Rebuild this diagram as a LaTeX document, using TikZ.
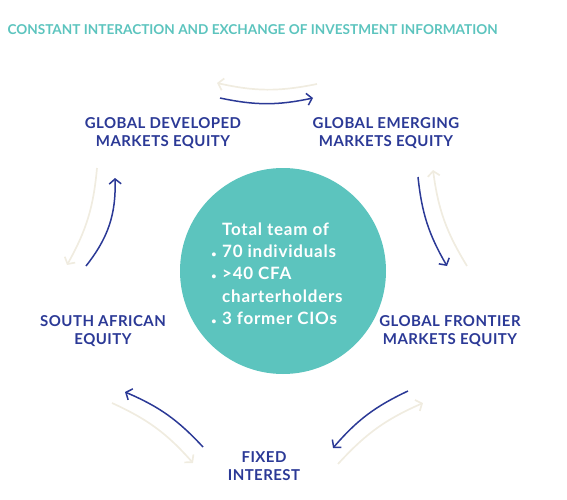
\documentclass[tikz,border=0pt]{standalone}
\usepackage{fontspec}
\setmainfont{Lato}
\usetikzlibrary{arrows.meta}

\definecolor{teamteal}{RGB}{92,196,190}
\definecolor{deepblue}{RGB}{43,57,150}
\definecolor{paleflow}{RGB}{240,236,224}

\begin{document}
\begin{tikzpicture}[
		x=1pt, y=-1pt,
		% Styling for the asset class labels
		classlabel/.style={align=center, text=deepblue, font=\bfseries\fontsize{15}{18.5}\selectfont\addfontfeature{LetterSpace=3}},
		% Heading and centre disc
		titlestyle/.style={anchor=west, text=teamteal, font=\bfseries\fontsize{13.6}{15}\selectfont},
		teamdisc/.style={circle, fill=teamteal, minimum size=206pt, inner sep=0pt},
		teamtextstyle/.style={text=white, align=left, anchor=north west, inner sep=0pt, font=\bfseries\fontsize{17}{22.3}\selectfont\addfontfeature{LetterSpace=4.5}},
		% Flow arrows (forward and returning)
		flowfwd/.style={draw=deepblue, line width=1.5pt, -{Straight Barb[length=5pt,width=12pt,line width=1.5pt]}, bend right=12},
		flowback/.style={draw=paleflow, line width=1.7pt, -{Straight Barb[length=5pt,width=12pt,line width=1.7pt]}, bend left=12}
		]
		
		\useasboundingbox (0,0) rectangle (567,500);
		
		% =========================================================================
		% HEADING
		% =========================================================================
		\node[titlestyle] (title) at (4,30) {CONSTANT INTERACTION AND EXCHANGE OF INVESTMENT INFORMATION};
		
		% =========================================================================
		% CENTRE: team disc
		% =========================================================================
		\node[teamdisc] (team) at (283,271) {};
		\node[teamtextstyle] (teamtext) at (222,222.5)
		{Total team of\\
		\llap{{\small\textbullet}\,\,}70 individuals\\
		\llap{{\small\textbullet}\,\,}>40 CFA\\
		charterholders\\
		\llap{{\small\textbullet}\,\,}3 former CIOs};
		
		% =========================================================================
		% ASSET CLASSES
		% =========================================================================
		\node[classlabel] (gdme) at (163,133) {GLOBAL DEVELOPED\\MARKETS EQUITY};
		\node[classlabel] (geme) at (386,133) {GLOBAL EMERGING\\MARKETS EQUITY};
		\node[classlabel] (gfme) at (450,331) {GLOBAL FRONTIER\\MARKETS EQUITY};
		\node[classlabel] (fi) at (264,466) {FIXED\\INTEREST};
		\node[classlabel] (sae) at (103,331) {SOUTH AFRICAN\\EQUITY};
		
		% =========================================================================
		% FLOW END POINTS
		% =========================================================================
		\coordinate (topA) at (220,98);   \coordinate (topB) at (313,98);
		\coordinate (topC) at (317,84);   \coordinate (topD) at (217,83);
		\coordinate (rgtA) at (418,177);  \coordinate (rgtB) at (447,266);
		\coordinate (rgtC) at (467,266);  \coordinate (rgtD) at (433,170);
		\coordinate (brA) at (408,391);   \coordinate (brB) at (333,448);
		\coordinate (brC) at (338,464);   \coordinate (brD) at (423,403);
		\coordinate (blA) at (203,447);   \coordinate (blB) at (125,392);
		\coordinate (blC) at (112,403);   \coordinate (blD) at (193,463);
		\coordinate (lftA) at (86,266);   \coordinate (lftB) at (115,178);
		\coordinate (lftC) at (97,168);   \coordinate (lftD) at (67,265);
		
		% =========================================================================
		% FLOWS
		% =========================================================================
		\draw[flowfwd] (topA) to (topB);
		\draw[flowback] (topC) to (topD);
		\draw[flowfwd] (rgtA) to (rgtB);
		\draw[flowback] (rgtC) to (rgtD);
		\draw[flowfwd] (brA) to (brB);
		\draw[flowback] (brC) to (brD);
		\draw[flowfwd] (blA) to (blB);
		\draw[flowback] (blC) to (blD);
		\draw[flowfwd, bend right=20] (lftA) to (lftB);
		\draw[flowback] (lftC) to (lftD);
		
	\end{tikzpicture}
\end{document}
